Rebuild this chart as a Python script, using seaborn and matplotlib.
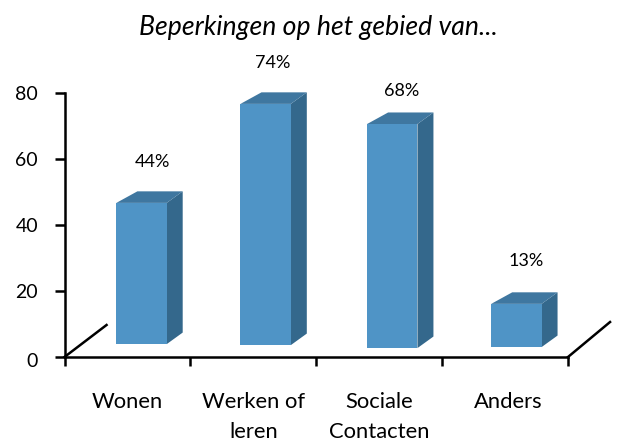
import matplotlib
matplotlib.use('Agg')
import matplotlib.pyplot as plt
from matplotlib.transforms import ScaledTranslation
import seaborn as sns
import pandas as pd

categories = ['Wonen', 'Werken of\nleren', 'Sociale\nContacten', 'Anders']
pct_labels = ['44%', '74%', '68%', '13%']
bar_top = [46.7, 76.7, 70.6, 16.1]
bar_base = [3.9, 3.6, 2.7, 3.0]
bar_shift = [0.112, 0.098, 0.104, 0.09]
label_x = [0.195, 1.15, 2.18, 3.17]
label_y = [59.2, 89.2, 80.7, 29.2]
y_ticks = [0, 20, 40, 60, 80]

FRONT = '#4F94C6'
SIDE = '#34688C'
TOP = '#3F77A0'
FONT = 'Lato'

# depth of the fake 3d boxes, in axis units
DX_LEFT = 0.167
DX_RIGHT = 0.127
DY = 3.5

plt.rcParams['font.family'] = [FONT, 'DejaVu Sans']

df = pd.DataFrame({
    'cat': categories,
    'height': [t - b for t, b in zip(bar_top, bar_base)],
})

fig = plt.figure(figsize=(6.19, 4.41), dpi=100)
ax = fig.add_axes([64.5 / 619, (441 - 357) / 441, 503.5 / 619, 264 / 441])

sns.barplot(data=df, x='cat', y='height', bottom=bar_base, width=0.4, color=FRONT,
            saturation=1, ax=ax, zorder=3)

for patch, shift in zip(ax.patches, bar_shift):
    patch.set_x(patch.get_x() + shift)

for patch in list(ax.patches):
    x0 = patch.get_x()
    x1 = x0 + patch.get_width()
    y0 = patch.get_y()
    y1 = y0 + patch.get_height()
    ax.fill([x1, x1 + DX_RIGHT, x1 + DX_RIGHT, x1], [y0, y0 + DY, y1 + DY, y1],
            color=SIDE, lw=0, zorder=2, clip_on=False)
    ax.fill([x0, x0 + DX_LEFT, x1 + DX_RIGHT, x1], [y1, y1 + DY, y1 + DY, y1],
            color=TOP, lw=0, zorder=2, clip_on=False)

for x, y, s in zip(label_x, label_y, pct_labels):
    ax.text(x, y, s, ha='center', va='center', fontsize=13, color='black', clip_on=False)

# floor edges
ax.plot([-0.5, -0.166], [0, 9.7], color='black', lw=1.8, clip_on=False, zorder=4)
ax.plot([3.5, 3.834], [0, 10.6], color='black', lw=1.8, clip_on=False, zorder=4)

ax.set_xlim(-0.5, 3.5)
ax.set_ylim(0, 80)
ax.set_xlabel('')
ax.set_ylabel('')
ax.set_yticks(y_ticks)
ax.set_yticklabels([str(v) for v in y_ticks], fontsize=14)
ax.set_xticks(range(len(categories)))
ax.set_xticklabels(categories, fontsize=15.8, linespacing=1.62)
ax.set_xticks([-0.5, 0.5, 1.5, 2.5, 3.5], minor=True)
ax.tick_params(axis='x', which='major', length=0, pad=25.5)
ax.tick_params(axis='x', which='minor', length=6.5, width=1.8)
ax.tick_params(axis='y', length=7, width=1.8, pad=12)

# the 0 sits a little low in the original, Anders a little right
zero = ax.get_yticklabels()[0]
zero.set_transform(zero.get_transform() + ScaledTranslation(0, -3 / 100, fig.dpi_scale_trans))
anders = ax.get_xticklabels()[3]
anders.set_transform(anders.get_transform() + ScaledTranslation(3 / 100, 0, fig.dpi_scale_trans))

sns.despine(ax=ax)
for side in ['left', 'bottom']:
    ax.spines[side].set_linewidth(1.8)

fig.text(318 / 619, 1 - 27 / 441, 'Beperkingen op het gebied van...', ha='center', va='center',
         fontsize=19.2, style='italic')

fig.savefig('out.png', dpi=100)
plt.close(fig)
